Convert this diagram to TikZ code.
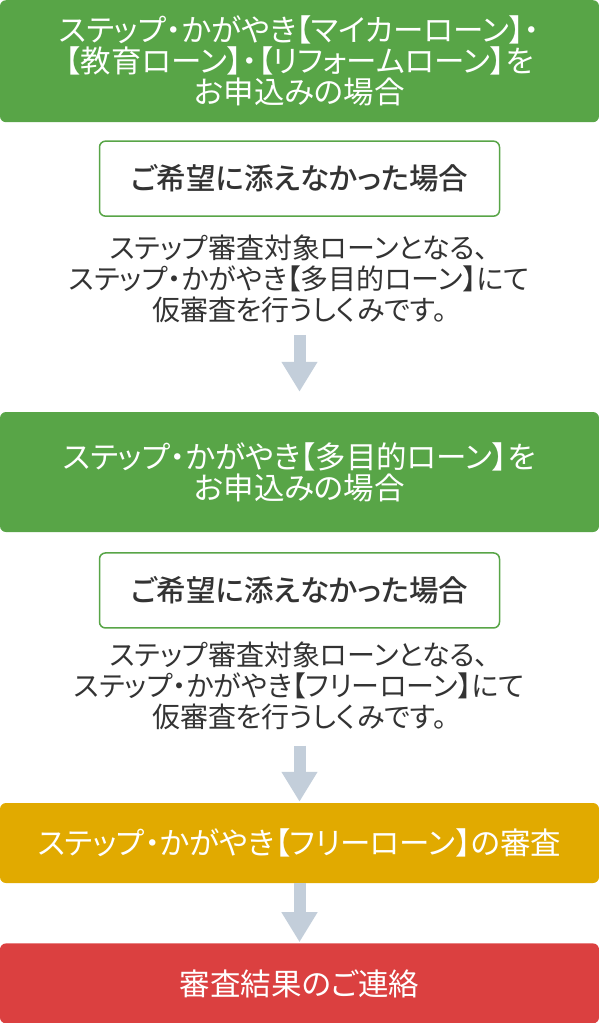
\documentclass[tikz,border=0pt]{standalone}
\usepackage{fontspec}
\setmainfont{Noto Sans CJK JP}[RawFeature=+palt]
\newfontfamily\medfont{Noto Sans CJK JP Medium}[RawFeature=+palt]
\usepackage{xcolor}
\usepackage{tikz}
\usetikzlibrary{arrows.meta,positioning}
\definecolor{leafgreen}{HTML}{58A547}
\definecolor{mustard}{HTML}{E1AA00}
\definecolor{alertred}{HTML}{DB4040}
\definecolor{arrowgray}{HTML}{C3CEDA}
\definecolor{inkgray}{HTML}{333333}
\tikzset{
  stagebox/.style={rounded corners=6pt,text=white,align=center,
                   minimum width=599pt,inner sep=0pt,font=\fontsize{30.5}{31}\selectfont},
  applybox/.style={stagebox,fill=leafgreen},
  reviewbox/.style={stagebox,fill=mustard,minimum height=80pt},
  resultbox/.style={stagebox,fill=alertred,minimum height=80pt},
  wishbox/.style={draw=leafgreen,line width=1.5pt,rounded corners=6pt,fill=white,
                  minimum width=400pt,minimum height=75pt,text=inkgray,
                  font=\fontsize{29.5}{31}\medfont},
  notetext/.style={align=center,text=inkgray,inner sep=0pt,font=\fontsize{28}{31}\selectfont},
  flow/.style={-{Triangle[length=30pt,width=34pt]},arrowgray,line width=12pt},
}

\begin{document}
\begin{tikzpicture}[x=1pt,y=-1pt]
\useasboundingbox (0,0) rectangle (599,1023);

\node[applybox, minimum height=122pt, anchor=north] (apply1) at (299.5,0)
  {ステップ・かがやき【マイカーローン】・\\【教育ローン】・【リフォームローン】を\\お申込みの場合};

\node[wishbox, below=18pt of apply1] (wish1) {ご希望に添えなかった場合};

\node[notetext] (note1) at (299.5,279)
  {ステップ審査対象ローンとなる、\\ステップ・かがやき【多目的ローン】にて\\仮審査を行うしくみです。};

\node[applybox, minimum height=120pt] (apply2) at (299.5,472)
  {ステップ・かがやき【多目的ローン】を\\お申込みの場合};

\node[wishbox, below=20pt of apply2] (wish2) {ご希望に添えなかった場合};

\node[notetext] (note2) at (299.5,686)
  {ステップ審査対象ローンとなる、\\ステップ・かがやき【フリーローン】にて\\仮審査を行うしくみです。};

\node[reviewbox] (review) at (299.5,843) {ステップ・かがやき【フリーローン】の審査};

\node[resultbox, below=60pt of review] (result) {審査結果のご連絡};

\draw[flow, shorten <=118pt, shorten >=20pt] (wish1) -- (apply2);
\draw[flow, shorten <=117pt, shorten >=1pt] (wish2) -- (review);
\draw[flow, shorten >=1pt] (review) -- (result);

\end{tikzpicture}
\end{document}
